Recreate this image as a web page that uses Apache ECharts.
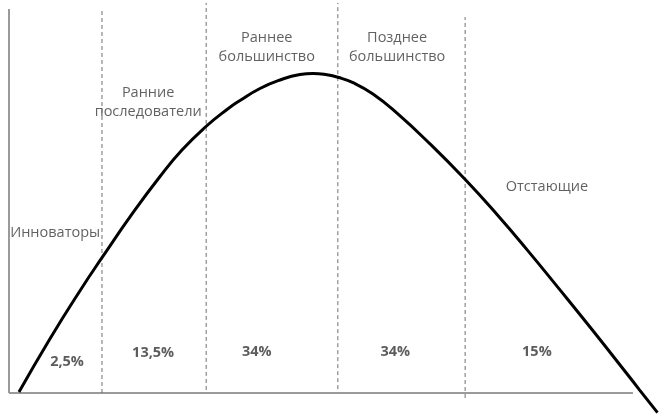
<!DOCTYPE html>
<html><head><meta charset="utf-8">
<script src="https://cdn.jsdelivr.net/npm/echarts@6/dist/echarts.min.js"></script>
<style>html,body{margin:0;padding:0;background:#fff}#c{width:659px;height:414px}</style>
</head><body><div id="c"></div>
<script>
// Curve points in chart units (axis span x: 0..100, y: 0..100)
const curveX = [1.6, 6.57, 11.38, 14.9, 19.87, 24.2, 27.72, 31.57, 34.94, 37.02, 40.22, 43.43, 46.63, 48.72, 50.96, 52.72, 55.13, 58.33, 62.18, 67.47, 73.08, 78.21, 83.01, 88.3, 93.59, 98.97, 101.04, 103.93];
const curveY = [0.26, 14.14, 26.64, 35.23, 46.95, 56.38, 63.28, 69.4, 73.83, 76.17, 79.3, 81.51, 82.92, 83.2, 82.86, 82.21, 80.81, 77.86, 72.86, 64.87, 55.65, 46.48, 37.34, 26.85, 16.2, 5.13, 0.83, -5.13];
// Dashed dividers
const dividerX = [14.9, 31.6, 52.7, 73.1];
const dividerTop = [99.7, 101.6, 101.6, 97.9];
const dividerBottom = [0, 0.8, 1, -1.3];
// Group names
const groupNames = ['Инноваторы', 'Ранние\nпоследователи', 'Раннее\nбольшинство', 'Позднее\nбольшинство', 'Отстающие'];
const groupNameX = [7.4, 22.3, 41.3, 62.2, 86.2];
const groupNameY = [41.7, 75.7, 90.0, 90.0, 53.6];
// Shares
const shares = ['2,5%', '13,5%', '34%', '34%', '15%'];
const shareX = [9.3, 23.1, 39.7, 61.9, 84.6];
const shareY = [8.1, 10.4, 10.7, 10.7, 10.7];
// Axis extents (chart units)
const axisXEnd = 100;
const axisYEnd = 100;

const series = [];
series.push({ type: 'line', symbol: 'none', silent: true, data: [[0, 0], [axisXEnd, 0]],
  lineStyle: { color: '#9a9a9a', width: 2 } });
series.push({ type: 'line', symbol: 'none', silent: true, data: [[0, 0], [0, axisYEnd]],
  lineStyle: { color: '#9a9a9a', width: 2 } });
dividerX.forEach((x, i) => {
  series.push({
    type: 'line', symbol: 'none', silent: true,
    data: [[x, dividerBottom[i]], [x, dividerTop[i]]],
    lineStyle: { color: '#707070', width: 1, type: [4, 3] }
  });
});
series.push({
  type: 'line', symbol: 'none', smooth: 0.5, silent: true,
  data: curveX.map((x, i) => [x, curveY[i]]),
  lineStyle: { color: '#000', width: 3 }
});
series.push({
  type: 'scatter', symbolSize: 0, silent: true,
  data: groupNames.map((n, i) => ({ value: [groupNameX[i], groupNameY[i]], name: n })),
  label: { show: true, position: 'inside', formatter: p => p.name, color: '#3a3a3a',
    fontFamily: 'Open Sans', fontSize: 14.5, lineHeight: 19 }
});
series.push({
  type: 'scatter', symbolSize: 0, silent: true,
  data: shares.map((n, i) => ({ value: [shareX[i], shareY[i]], name: n })),
  label: { show: true, position: 'inside', formatter: p => p.name, color: '#333',
    fontFamily: 'Open Sans', fontSize: 14.5, fontWeight: 'bold' }
});

const chart = echarts.init(document.getElementById('c'), null, { renderer: 'canvas' });
chart.setOption({
  animation: false,
  grid: { left: 9, right: 0, top: 0, bottom: 0, containLabel: false },
  xAxis: { type: 'value', min: 0, max: 104.17, show: false },
  yAxis: { type: 'value', min: -5.47, max: 102.34, show: false },
  series
});
</script></body></html>
